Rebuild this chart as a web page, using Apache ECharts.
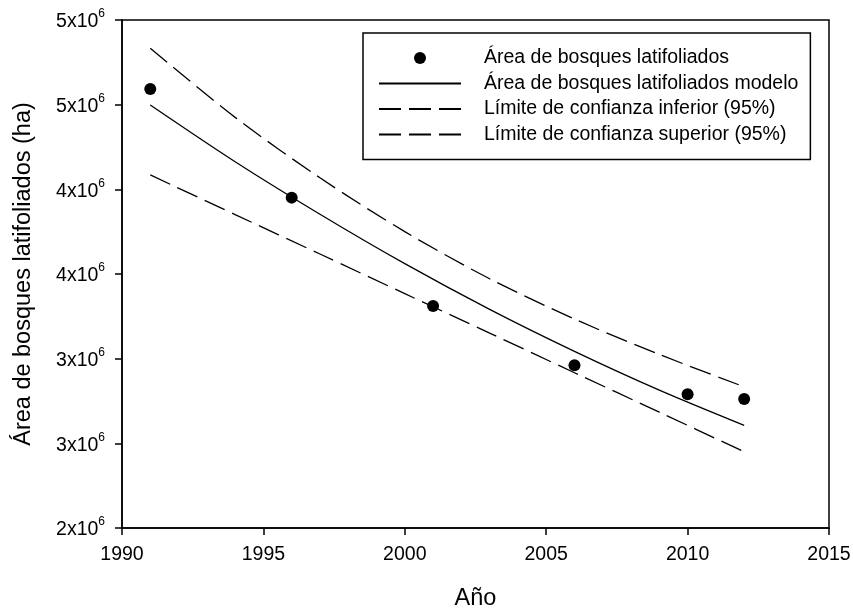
<!DOCTYPE html>
<html>
<head>
<meta charset="utf-8">
<script src="https://cdn.jsdelivr.net/npm/echarts@6/dist/echarts.min.js"></script>
<style>
  html, body { margin: 0; padding: 0; background: #fff; }
  #main { width: 853px; height: 610px; }
</style>
</head>
<body>
<div id="main"></div>
<script>
// datos observados (ha)
const obsYears = [1991, 1996, 2001, 2006, 2010, 2012];
const obsArea = [4593000, 3951000, 3311000, 2961000, 2790000, 2762000];

// curvas del modelo y bandas de confianza
const curveYears = [1991, 1994, 1997, 2000, 2003, 2006, 2009, 2012];
const modelArea = [4498000, 4163000, 3853000, 3561000, 3291000, 3043000, 2814000, 2606000];
const lowerArea = [4085000, 3851000, 3618000, 3384000, 3151000, 2917000, 2684000, 2450000];
const upperArea = [4833000, 4425000, 4068000, 3750000, 3472000, 3234000, 3025000, 2834000];

const yTickLabels = ['2', '3', '3', '4', '4', '5', '5'];

const font = 'Liberation Sans, Arial, sans-serif';

function pairs(xs, ys) {
    return xs.map((x, i) => [x, ys[i]]);
}

var myChart = echarts.init(document.getElementById('main'));

const dash = [22, 8];
// en la leyenda las líneas van sin marcador
const noMarker = { opacity: 0, borderWidth: 0 };

const option = {
    animation: false,
    textStyle: { fontFamily: font, color: '#000' },
    grid: {
        left: 122, right: 24, top: 20, bottom: 82,
        outerBoundsMode: 'none',
        show: true, borderColor: '#000', borderWidth: 1.5
    },
    legend: {
        orient: 'vertical',
        left: 363,
        top: 33,
        align: 'left',
        padding: [15, 12, 15, 15],
        borderColor: '#000',
        borderWidth: 1.5,
        itemWidth: 82,
        itemHeight: 12,
        itemGap: 5.5,
        textStyle: { fontSize: 19.5, lineHeight: 20, color: '#000', fontFamily: font, padding: [0, 0, 0, 18] },
        data: [
            { name: 'Área de bosques latifoliados', icon: 'circle', itemStyle: { color: '#000', opacity: 1 } },
            { name: 'Área de bosques latifoliados modelo', itemStyle: noMarker },
            { name: 'Límite de confianza inferior (95%)', itemStyle: noMarker },
            { name: 'Límite de confianza superior (95%)', itemStyle: noMarker }
        ]
    },
    xAxis: {
        type: 'value',
        min: 1990,
        max: 2015,
        interval: 5,
        name: 'Año',
        nameLocation: 'middle',
        nameGap: 59,
        nameTextStyle: { fontSize: 23.5, color: '#000', fontFamily: font },
        axisLine: { lineStyle: { color: '#000', width: 1.5 } },
        axisTick: { length: 7, lineStyle: { color: '#000', width: 1.5 } },
        axisLabel: {
            fontSize: 19.5, color: '#000', margin: 17, fontFamily: font,
            formatter: function (v) { return String(v); }
        },
        splitLine: { show: false }
    },
    yAxis: {
        type: 'value',
        min: 2000000,
        max: 5000000,
        interval: 500000,
        name: 'Área de bosques latifoliados (ha)',
        nameLocation: 'middle',
        nameGap: 86,
        nameTextStyle: { fontSize: 23.5, color: '#000', fontFamily: font },
        axisLine: { lineStyle: { color: '#000', width: 1.5 } },
        axisTick: { length: 7, lineStyle: { color: '#000', width: 1.5 } },
        axisLabel: {
            margin: 17,
            formatter: function (value, index) {
                return '{n|' + yTickLabels[index] + 'x10}{e|6}';
            },
            rich: {
                n: { fontSize: 19.5, color: '#000', fontFamily: font, padding: [4, 0, 0, 0] },
                e: { fontSize: 12, color: '#000', fontFamily: font, verticalAlign: 'top' }
            }
        },
        splitLine: { show: false }
    },
    series: [
        {
            name: 'Área de bosques latifoliados',
            type: 'scatter',
            data: pairs(obsYears, obsArea),
            symbol: 'circle',
            symbolSize: 12,
            itemStyle: { color: '#000', opacity: 1 },
            z: 5
        },
        {
            name: 'Área de bosques latifoliados modelo',
            type: 'line',
            data: pairs(curveYears, modelArea),
            smooth: 0.3,
            symbol: 'none',
            lineStyle: { color: '#000', width: 1.3 },
            itemStyle: { color: '#000' }
        },
        {
            name: 'Límite de confianza inferior (95%)',
            type: 'line',
            data: pairs(curveYears, lowerArea),
            smooth: 0.3,
            symbol: 'none',
            lineStyle: { color: '#000', width: 1.3, type: dash },
            itemStyle: { color: '#000' }
        },
        {
            name: 'Límite de confianza superior (95%)',
            type: 'line',
            data: pairs(curveYears, upperArea),
            smooth: 0.3,
            symbol: 'none',
            lineStyle: { color: '#000', width: 1.3, type: dash },
            itemStyle: { color: '#000' }
        }
    ]
};

myChart.setOption(option);
</script>
</body>
</html>
